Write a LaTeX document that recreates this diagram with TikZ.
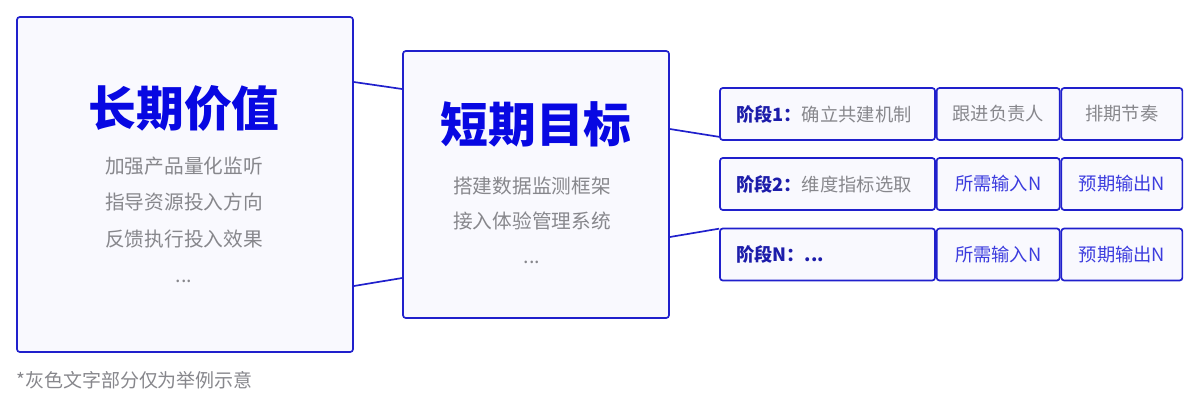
\documentclass[tikz,border=0pt]{standalone}
\usepackage{fontspec}
\setmainfont{Noto Sans CJK SC}
\usetikzlibrary{positioning, calc}
\definecolor{myblue}{RGB}{32,32,204}
\definecolor{mytitle}{RGB}{8,8,226}
\definecolor{mynavy}{RGB}{28,28,170}
\definecolor{mylink}{RGB}{60,60,222}
\definecolor{mygray}{RGB}{135,135,140}
\definecolor{myfill}{RGB}{249,249,254}
\tikzset{
  panel/.style={rectangle, draw=myblue, fill=myfill, line width=1.2pt,
    rounded corners=2pt, inner sep=0pt},
  cell/.style={rectangle, draw=myblue, fill=myfill, line width=1.2pt,
    rounded corners=2pt, minimum height=1.3cm, inner sep=0pt,
    font=\fontsize{13}{15}\selectfont},
  heading/.style={font=\fontsize{34}{38}\bfseries\selectfont, text=mytitle},
  note/.style={align=center, text=mygray},
  link/.style={myblue, line width=1.2pt}
}

\begin{document}
\begin{tikzpicture}
  \useasboundingbox (0,0) rectangle (30,-10.175);

  % Long-term value
  \node[panel, minimum width=8.4cm, minimum height=8.375cm] (lv) at (4.625,-4.6125) {};
  \node[heading] (lvt) at (4.6,-2.7) {长期价值};
  \node[note, font=\fontsize{14}{26}\selectfont] (lvd) at (4.6,-5.5)
    {加强产品量化监听\\指导资源投入方向\\反馈执行投入效果\\...};

  % Short-term goal
  \node[panel, minimum width=6.65cm, minimum height=6.675cm] (sv) at (13.4,-4.6125) {};
  \node[heading] (svt) at (13.4,-3.12) {短期目标};
  \node[note, font=\fontsize{14}{25}\selectfont] (svd) at (13.3,-5.5)
    {搭建数据监测框架\\接入体验管理系统\\...};

  % Phase rows
  \node[cell, minimum width=5.375cm, text width=4.575cm, align=left] (p1) at (20.6875,-2.85)
    {\textcolor{mynavy}{\bfseries 阶段1：}\textcolor{mygray}{确立共建机制}};
  \node[cell, minimum width=3.075cm, text=mygray, anchor=west] (p1b) at (p1.east) {跟进负责人};
  \node[cell, minimum width=3.025cm, text=mygray, anchor=west] (p1c) at (p1b.east) {排期节奏};

  \node[cell, minimum width=5.375cm, text width=4.575cm, align=left] (p2) at (20.6875,-4.6)
    {\textcolor{mynavy}{\bfseries 阶段2：}\textcolor{mygray}{维度指标选取}};
  \node[cell, minimum width=3.075cm, text=mylink, anchor=west] (p2b) at (p2.east) {所需输入N};
  \node[cell, minimum width=3.025cm, text=mylink, anchor=west] (p2c) at (p2b.east) {预期输出N};

  \node[cell, minimum width=5.375cm, text width=4.575cm, align=left, text=mynavy,
    font=\fontsize{13}{15}\bfseries\selectfont] (p3) at (20.6875,-6.3625) {阶段N：...};
  \node[cell, minimum width=3.075cm, text=mylink, anchor=west] (p3b) at (p3.east) {所需输入N};
  \node[cell, minimum width=3.025cm, text=mylink, anchor=west] (p3c) at (p3b.east) {预期输出N};

  % Connectors
  \draw[link] ($(lv.east)+(0,2.5625)$) -- ($(sv.west)+(0,2.3875)$);
  \draw[link] ($(lv.east)+(0,-2.5375)$) -- ($(sv.west)+(0,-2.3375)$);
  \draw[link] ($(sv.east)+(0,1.3875)$) -- ($(p1.south west)+(0,0.1)$);
  \draw[link] ($(sv.east)+(0,-1.3125)$) -- ($(p3.north west)+(0,-0.025)$);

  % Footnote
  \node[anchor=west, text=mygray, font=\fontsize{13.5}{15}\selectfont, inner sep=0pt] (fn) at (0.4,-9.5)
    {*灰色文字部分仅为举例示意};
\end{tikzpicture}
\end{document}
